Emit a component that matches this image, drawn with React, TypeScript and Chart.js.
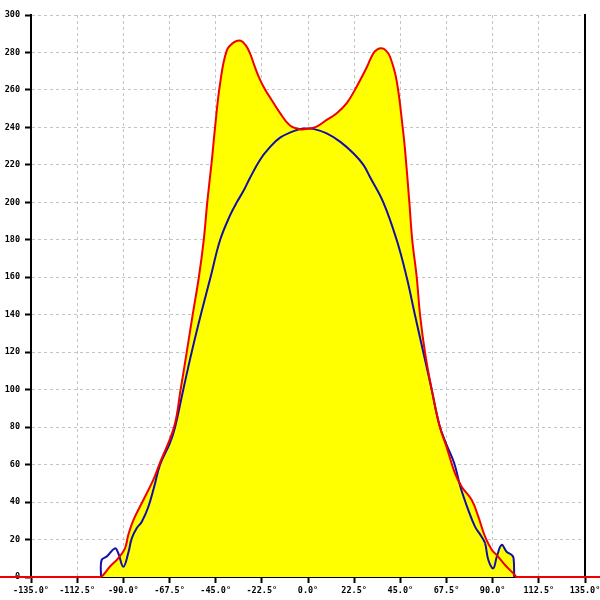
import React, { useEffect, useRef } from 'react';
import { Chart, registerables } from 'chart.js';

Chart.register(...registerables);

// Angle range and tick steps
const X_MIN = -135;
const X_MAX = 135;
const X_STEP = 22.5;
const Y_MIN = 0;
const Y_MAX = 300;
const Y_STEP = 20;

// Red series (envelope)
const redAngles = [
  -165, -105, -101, -96.6, -92.5, -89.2, -87.6, -85.1, -80.3, -75.4, -72.5, -65.3, -62.1, -59.1, -56.2,
  -53.2, -50.8, -49.1, -46.9, -45.3, -42.9, -39.6, -36, -32.8, -30.5, -28.3, -25.8, -23.4, -20.8, -18.5, -13.6, -8.8,
  -3.9, 0, 4.2, 9.1, 14, 18.9, 23.7, 28.6, 31.8, 33.8, 35.9, 38, 40, 43.2, 46.3, 47.3, 49.4, 50.8, 53, 54.6,
  57, 60.3, 64.3, 67.5, 71.6, 74.9, 79.8, 83, 86.3, 89.6, 92, 96, 100.9, 101.5, 105, 165,
];
const redValues = [
  0, 0, 0, 5.5, 10, 15.3, 22.4, 30.4, 41, 51.8, 60, 80, 100, 120, 140,
  160, 180, 200, 222, 240, 263, 281, 285.5, 286.3, 284, 279.7, 272, 265.5, 260, 256, 247.6, 241,
  239, 239.3, 240.4, 244, 247.6, 253, 261.7, 272, 279.5, 281.6, 282.2, 281, 277.7, 265, 238.6, 228, 200, 180, 160, 140,
  120, 100, 80, 69.6, 55.4, 48.2, 41.1, 32.2, 21.5, 14.4, 11.7, 6.4, 1, 0, 0, 0,
];

// Blue series
const blueAngles = [
  -100.9, -100.6, -98.1, -94.1, -92.5, -90, -87.6, -85.9, -83.5, -81, -77.8, -75, -72.1, -67.3,
  -64.8, -60.8, -56.7, -52, -47.5, -42.8, -38, -34.7, -31.5, -28.3, -23.5, -19.3, -13.6, -5.5, -1, 2.6,
  9.1, 15.6, 22.1, 27, 30.2, 36.7, 43.2, 48.1, 52.1, 56.2, 60.3, 63.8, 67.2, 71.2, 74.3, 78.1,
  81.4, 84.6, 86.3, 87.9, 90.3, 92, 94.4, 96.8, 99.3, 100.2, 100.5,
];
const blueValues = [
  0, 9, 10.9, 15.3, 12.8, 5.5, 12.8, 20.6, 26, 29.5, 37.5, 48, 60, 71.5,
  80, 100, 120, 141, 160, 180, 193, 200, 206, 213, 222.5, 228.5, 234.5, 238.6, 239.4, 239.2,
  236.8, 232.4, 226.2, 220, 213.5, 200, 180, 160, 140, 120, 100, 82, 71.5, 61, 48, 35.8,
  26.9, 21.5, 18, 9.1, 4.6, 10.8, 17.1, 13.5, 11.7, 10, 0,
];

const RED = '#f00000';
const BLUE = '#1010a8';
const YELLOW = '#ffff00';
const GRID = '#c4c4c4';
const FONT = { family: '"DejaVu Sans Mono", monospace', size: 8.5, weight: 'bold' as const };

export default function App() {
  const ref = useRef<HTMLCanvasElement | null>(null);

  useEffect(() => {
    if (!ref.current) return;
    const red = redAngles.map((x, i) => ({ x, y: redValues[i] }));
    const blue = blueAngles.map((x, i) => ({ x, y: blueValues[i] }));
    const chart = new Chart(ref.current, {
      type: 'line',
      data: {
        datasets: [
          {
            data: red,
            borderColor: RED,
            borderWidth: 2,
            backgroundColor: YELLOW,
            fill: 'origin',
            pointRadius: 0,
            tension: 0.4,
            clip: false as any,
          },
          {
            data: blue,
            borderColor: BLUE,
            borderWidth: 2,
            backgroundColor: YELLOW,
            fill: 'origin',
            pointRadius: 0,
            tension: 0.4,
            segment: {
              backgroundColor: (ctx: any) => (ctx.p0.parsed.x >= 86 ? YELLOW : 'rgba(0,0,0,0)'),
            },
          },
        ],
      },
      options: {
        responsive: false,
        animation: false,
        events: [],
        layout: { padding: { top: 15, right: 15, left: 0, bottom: 0 } },
        plugins: {
          legend: { display: false },
          tooltip: { enabled: false },
          filler: { drawTime: 'beforeDatasetsDraw' },
        },
        scales: {
          x: {
            type: 'linear',
            min: X_MIN,
            max: X_MAX,
            afterFit: (s: any) => {
              s.height = 23;
              s.paddingLeft = 0;
              s.paddingRight = 0;
            },
            ticks: {
              stepSize: X_STEP,
              autoSkip: false,
              maxRotation: 0,
              minRotation: 0,
              padding: 3,
              color: '#000',
              font: FONT,
              callback: (v: any) => Number(v).toFixed(1) + '°',
            },
            grid: {
              color: GRID,
              lineWidth: 1,
              tickColor: '#000',
              tickWidth: 2,
              tickLength: 6,
            },
            border: { display: true, color: '#000', width: 2, dash: [3, 3] },
          },
          y: {
            type: 'linear',
            position: 'left',
            min: Y_MIN,
            max: Y_MAX,
            afterFit: (s: any) => {
              s.width = 31;
            },
            ticks: {
              stepSize: Y_STEP,
              padding: 5,
              color: '#000',
              font: FONT,
            },
            grid: {
              color: GRID,
              lineWidth: 1,
              tickColor: '#000',
              tickWidth: 2,
              tickLength: 6,
            },
            border: { display: true, color: '#000', width: 2, dash: [3, 3] },
          },
          y2: {
            type: 'linear',
            position: 'right',
            min: Y_MIN,
            max: Y_MAX,
            afterFit: (s: any) => {
              s.width = 0;
            },
            ticks: { display: false },
            grid: { display: false },
            border: { display: true, color: '#000', width: 2 },
          },
        },
      },
    });
    return () => chart.destroy();
  }, []);

  return (
    <div style={{ position: 'fixed', left: 0, top: 0, width: 600, height: 600, background: '#fff' }}>
      <canvas ref={ref} width={600} height={600} style={{ display: 'block' }} />
    </div>
  );
}
